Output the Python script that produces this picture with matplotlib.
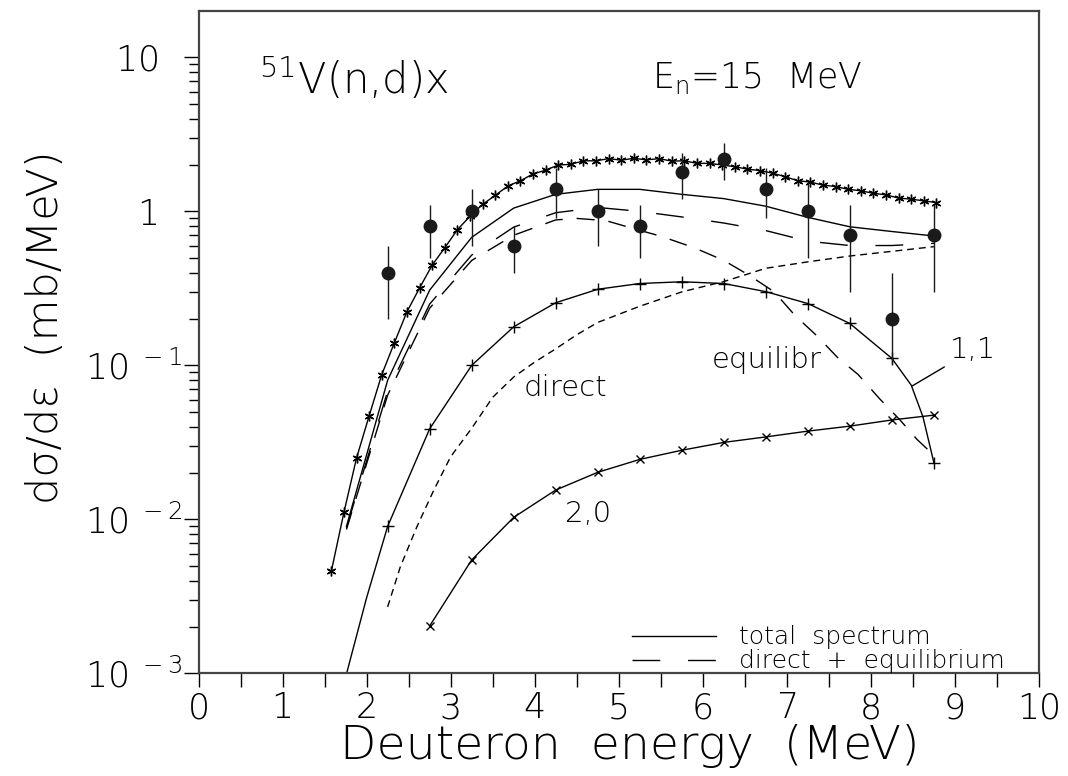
import matplotlib

matplotlib.use("Agg")
import matplotlib.pyplot as plt
from matplotlib.ticker import FixedLocator, FixedFormatter, NullFormatter

plt.rcParams["font.family"] = ["DejaVu Sans"]
plt.rcParams["font.weight"] = 200
plt.rcParams["axes.labelweight"] = 200
plt.rcParams["mathtext.default"] = "regular"

# calculated spectrum with asterisks (upper curve)
star_e = [1.58, 1.73, 1.88, 2.03, 2.18, 2.33, 2.48, 2.63, 2.78, 2.93, 3.08, 3.23,
          3.38, 3.53, 3.68, 3.83, 3.98, 4.13, 4.28, 4.43, 4.58, 4.73, 4.88, 5.03,
          5.18, 5.33, 5.48, 5.63, 5.78, 5.93, 6.08, 6.23, 6.38, 6.53, 6.68, 6.83,
          6.98, 7.13, 7.28, 7.43, 7.58, 7.73, 7.88, 8.03, 8.18, 8.33, 8.48, 8.63, 8.78]
star_y = [0.0046, 0.0111, 0.025, 0.047, 0.087, 0.140, 0.223, 0.318, 0.448, 0.58, 0.76, 0.93,
          1.11, 1.27, 1.46, 1.58, 1.75, 1.85, 2.00, 2.02, 2.13, 2.13, 2.20, 2.15,
          2.21, 2.16, 2.20, 2.12, 2.13, 2.05, 2.05, 2.00, 1.95, 1.88, 1.84, 1.77,
          1.68, 1.58, 1.55, 1.48, 1.45, 1.39, 1.36, 1.31, 1.28, 1.22, 1.20, 1.17, 1.14]

# total spectrum
total_e = [1.76, 2.25, 2.75, 3.25, 3.75, 4.25, 4.75, 5.25, 5.75, 6.25, 6.75, 7.25, 7.75, 8.25, 8.75]
total_y = [0.009, 0.080, 0.308, 0.678, 1.05, 1.29, 1.39, 1.39, 1.29, 1.21, 1.08, 0.914, 0.794, 0.74, 0.692]

# direct + equilibrium
direq_e = [1.76, 2.25, 2.75, 3.25, 3.75, 4.25, 4.75, 5.25, 5.75, 6.25, 6.75, 7.25, 7.75, 8.25, 8.75]
direq_y = [0.0088, 0.068, 0.25, 0.52, 0.79, 0.98, 1.06, 1.00, 0.92, 0.84, 0.75, 0.64, 0.60, 0.60, 0.62]

# equilibrium part
equil_e = [1.76, 2.25, 2.75, 3.25, 3.75, 4.25, 4.5, 4.85, 5.15, 5.5, 5.9, 6.25, 6.55, 6.85,
           7.1, 7.35, 7.6, 7.85, 8.1, 8.35, 8.55, 8.72]
equil_y = [0.0086, 0.064, 0.235, 0.48, 0.70, 0.88, 0.90, 0.87, 0.78, 0.69, 0.58, 0.48, 0.385, 0.30,
           0.21, 0.157, 0.113, 0.087, 0.061, 0.044, 0.033, 0.027]

# direct part
direct_e = [2.25, 2.4, 2.6, 2.8, 3.0, 3.25, 3.5, 3.75, 4.0, 4.25, 4.5, 4.75, 5.25, 5.75,
            6.25, 6.75, 7.25, 7.75, 8.25, 8.75]
direct_y = [0.0027, 0.0049, 0.009, 0.0155, 0.0255, 0.039, 0.062, 0.084, 0.105, 0.128, 0.158, 0.19,
            0.242, 0.30, 0.35, 0.427, 0.47, 0.513, 0.55, 0.59]

# (1,1) exciton component
p11_e = [1.74, 2.0, 2.25, 2.75, 3.25, 3.75, 4.25, 4.75, 5.25, 5.75, 6.25, 6.75, 7.25, 7.75,
         8.25, 8.48, 8.62, 8.75]
p11_y = [0.0009, 0.0031, 0.009, 0.0387, 0.100, 0.178, 0.255, 0.312, 0.340, 0.349, 0.340, 0.301,
         0.252, 0.187, 0.111, 0.0744, 0.0463, 0.0233]
p11_marks = [2, 3, 4, 5, 6, 7, 8, 9, 10, 11, 12, 13, 14, 17]

# (2,0) exciton component
p20_e = [2.75, 3.25, 3.75, 4.25, 4.75, 5.25, 5.75, 6.25, 6.75, 7.25, 7.75, 8.25, 8.75]
p20_y = [0.00203, 0.00545, 0.0103, 0.0155, 0.0202, 0.0245, 0.0281, 0.0316, 0.0343, 0.0374,
         0.0403, 0.0442, 0.0475]

# experiment
exp_e = [2.25, 2.75, 3.25, 3.75, 4.25, 4.75, 5.25, 5.75, 6.25, 6.75, 7.25, 7.75, 8.25, 8.75]
exp_y = [0.4, 0.8, 1.0, 0.6, 1.4, 1.0, 0.8, 1.8, 2.2, 1.4, 1.0, 0.7, 0.2, 0.7]
exp_lo = [0.2, 0.5, 0.6, 0.4, 0.9, 0.6, 0.5, 1.2, 1.6, 0.9, 0.5, 0.3, 0.1, 0.3]
exp_hi = [0.6, 1.1, 1.4, 0.8, 1.9, 1.4, 1.1, 2.4, 2.8, 1.9, 1.5, 1.1, 0.4, 1.1]

ytick_vals = [1e-3, 1e-2, 1e-1, 1, 10]
ytick_text = [r"$10^{\ -3}$", r"$10^{\ -2}$", r"$10^{\ -1}$", "1  ", "10  "]

fig = plt.figure(figsize=(10.68, 7.76), dpi=100)
ax = fig.add_axes([0.1859, 0.1323, 0.7869, 0.8535])
ax.set_yscale("log")
ax.set_xlim(0, 10)
ax.set_ylim(1e-3, 20)

lw = 1.0
ax.plot(star_e, star_y, "-", color="black", lw=lw, marker=(6, 2, 0), ms=7, mew=1.0)
(h_total,) = ax.plot(total_e, total_y, "-", color="black", lw=lw, label="total  spectrum")
(h_direq,) = ax.plot(direq_e, direq_y, color="black", lw=lw, ls=(0, (20, 20)),
                     label="direct  +  equilibrium")
ax.plot(equil_e, equil_y, color="black", lw=lw, ls=(0, (13, 10)))
ax.plot(direct_e, direct_y, color="black", lw=lw, ls=(0, (5, 3.5)))
ax.plot(p11_e, p11_y, "-", color="black", lw=lw, marker="+", ms=8, mew=1.0, markevery=p11_marks)
ax.plot(p20_e, p20_y, "-", color="black", lw=lw, marker="x", ms=5.5, mew=1.0)

yerr = [[y - lo for y, lo in zip(exp_y, exp_lo)], [hi - y for y, hi in zip(exp_y, exp_hi)]]
ax.errorbar(exp_e, exp_y, yerr=yerr, fmt="o", color="#1a1a1a", ms=9, elinewidth=1.0,
            capsize=0, zorder=5)

# labels inside the plot
ax.text(0.72, 7.3, r"$^{51}$V(n,d)x", fontsize=30, va="center", ha="left")
ax.text(5.4, 7.3, r"E$_n$=15  MeV", fontsize=25, va="center", ha="left")
ax.text(4.36, 0.071, "direct", fontsize=21, ha="center", va="center")
ax.text(6.76, 0.108, "equilibr", fontsize=21, ha="center", va="center")
ax.text(4.63, 0.0108, "2,0", fontsize=21, ha="center", va="center")
ax.annotate("1,1", xy=(8.49, 0.0734), xytext=(9.21, 0.126), fontsize=21,
            ha="center", va="center",
            arrowprops=dict(arrowstyle="-", lw=1.0, color="black", relpos=(0, 0),
                            shrinkA=2, shrinkB=0))

ax.legend(handles=[h_total, h_direq], loc="lower right", bbox_to_anchor=(0.9596, 0.0),
          frameon=False, fontsize=18, handlelength=3.36, handletextpad=0.92,
          labelspacing=0.0, borderpad=0, borderaxespad=0)

# axes decoration
ax.xaxis.set_major_locator(FixedLocator(range(0, 11)))
ax.xaxis.set_minor_locator(FixedLocator([i + 0.5 for i in range(10)]))
ax.yaxis.set_major_locator(FixedLocator(ytick_vals))
ax.yaxis.set_major_formatter(FixedFormatter(ytick_text))
minor = [m * 10.0 ** k for k in range(-3, 1) for m in range(2, 10)]
ax.yaxis.set_minor_locator(FixedLocator(minor))
ax.yaxis.set_minor_formatter(NullFormatter())

ax.tick_params(axis="x", which="both", direction="out", length=10, width=1.0,
               labelsize=25, pad=3)
ax.tick_params(axis="y", which="major", direction="out", length=11, width=1.0,
               labelsize=25, pad=1)
ax.tick_params(axis="y", which="minor", direction="out", length=7, width=1.0)
for side in ["left", "right", "top", "bottom"]:
    ax.spines[side].set_linewidth(1.6)
    ax.spines[side].set_color("#444444")

ax.set_xlabel("Deuteron  energy  (MeV)", fontsize=34)
ax.set_ylabel("dσ/dε  (mb/MeV)", fontsize=31)
ax.xaxis.set_label_coords(0.513, -0.076)
ax.yaxis.set_label_coords(-0.158, 0.523)

fig.savefig("out.png", dpi=100)
